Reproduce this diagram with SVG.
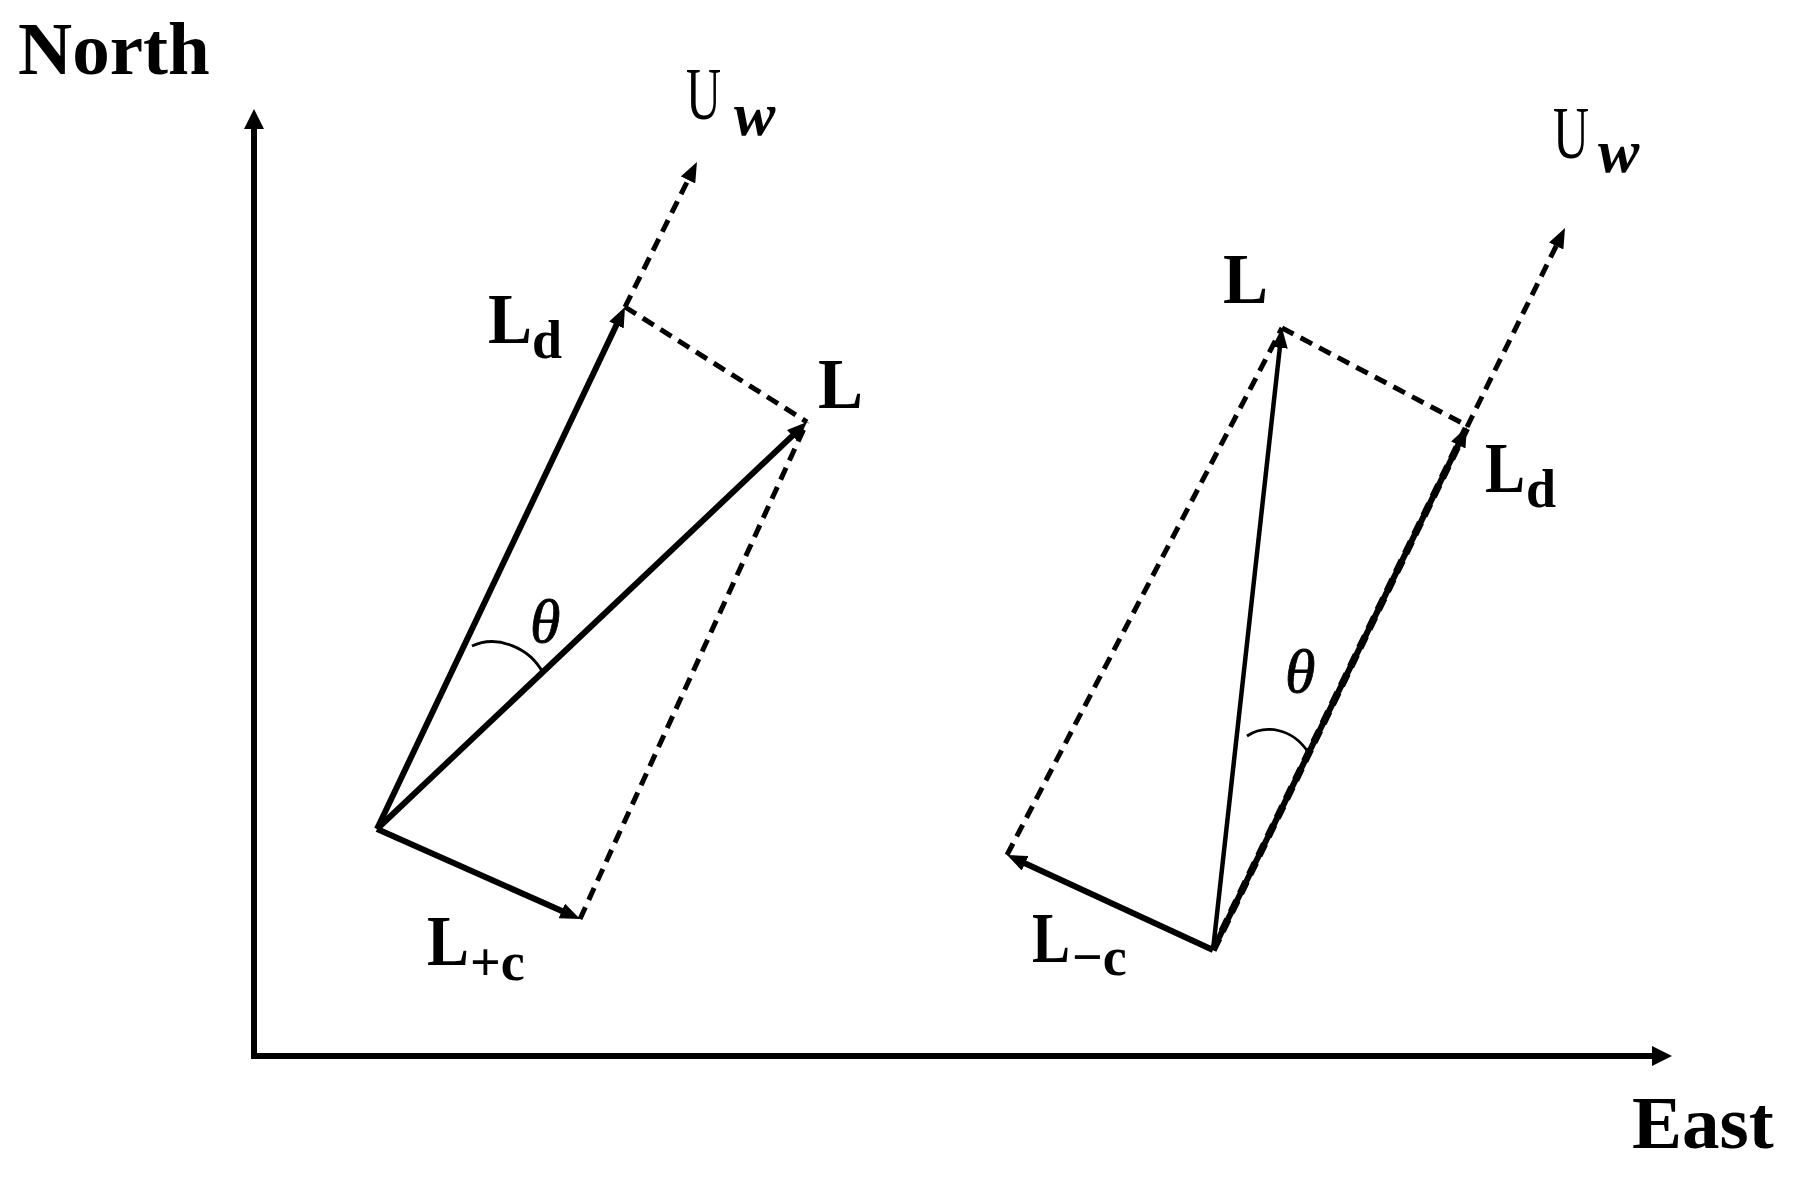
<svg xmlns="http://www.w3.org/2000/svg" width="1795" height="1181" viewBox="0 0 1795 1181">
<style>
.ax{stroke:#000;stroke-width:6;fill:none}
.sol{stroke:#000;stroke-width:6;fill:none}
.thin{stroke:#000;stroke-width:4.5;fill:none}
.dash{stroke:#000;stroke-width:5;fill:none;stroke-dasharray:13 8}
.arc{stroke:#000;stroke-width:2.8;fill:none}
.big{font-family:"Liberation Serif","Times New Roman",serif;font-weight:bold;font-size:75px;fill:#000}
.lab{font-family:"Liberation Serif","Times New Roman",serif;font-weight:bold;font-size:72px;fill:#000}
.sub{font-size:54px}
.u{font-family:"Liberation Serif","Times New Roman",serif;font-size:75px;fill:#000}
.w{font-weight:bold;font-style:italic;font-size:62px}
.th{font-family:"Liberation Serif","Times New Roman",serif;font-style:italic;font-size:62px;fill:#000;stroke:#000;stroke-width:0.8}
</style>
<defs>
<marker id="ah" viewBox="0 0 20 20" refX="10" refY="10" markerWidth="20" markerHeight="20" markerUnits="userSpaceOnUse" orient="auto"><path d="M0,0 L20,10 L0,20 Z" fill="#000"/></marker>
<marker id="vh" viewBox="0 0 20 16" refX="10" refY="8" markerWidth="20" markerHeight="16" markerUnits="userSpaceOnUse" orient="auto"><path d="M0,0 L20,8 L0,16 Z" fill="#000"/></marker>
</defs>
<rect width="1795" height="1181" fill="#fff"/>
<g id="connectors">
<line class="ax" x1="254" y1="1056" x2="254" y2="119" marker-end="url(#ah)"/>
<line class="ax" x1="251" y1="1056" x2="1662" y2="1056" marker-end="url(#ah)"/>
<line class="sol" x1="377" y1="829" x2="620.7" y2="316" marker-end="url(#vh)"/>
<line class="dash" x1="625" y1="307" x2="692.5" y2="171" marker-end="url(#vh)"/>
<line class="sol" x1="377" y1="829" x2="799.7" y2="428.9" marker-end="url(#vh)"/>
<line class="sol" x1="377" y1="829" x2="570.9" y2="915" marker-end="url(#vh)"/>
<line class="dash" x1="625" y1="307" x2="807" y2="422"/>
<line class="dash" x1="580" y1="919" x2="807" y2="422"/>
<path class="arc" d="M472,646 C497,634 530,648 543,673"/>
<line class="dash" x1="1213" y1="950" x2="1467" y2="427" style="stroke-width:7.5"/>
<line class="sol" x1="1213" y1="950" x2="1462.6" y2="436" marker-end="url(#vh)"/>
<line class="dash" x1="1467" y1="427" x2="1560.6" y2="237" marker-end="url(#vh)"/>
<line class="thin" x1="1213" y1="950" x2="1280.9" y2="337.9" marker-end="url(#vh)"/>
<line class="sol" x1="1213" y1="950" x2="1016.1" y2="859.2" marker-end="url(#vh)"/>
<line class="dash" x1="1282" y1="328" x2="1462" y2="423"/>
<line class="dash" x1="1007" y1="855" x2="1282" y2="328"/>
<path class="arc" d="M1247,736 C1265,724 1292,728 1308,752"/>
</g>
<g id="north"><text class="big" x="18" y="74">North</text></g>
<g id="east"><text class="big" x="1632" y="1148">East</text></g>
<g id="uw-left"><text class="u" x="686" y="119"><tspan textLength="35" lengthAdjust="spacingAndGlyphs">U</tspan><tspan class="w" x="734" y="135">w</tspan></text></g>
<g id="ld-left"><text class="lab" x="488" y="343"><tspan textLength="44" lengthAdjust="spacingAndGlyphs">L</tspan><tspan class="sub" x="532" y="358">d</tspan></text></g>
<g id="l-left"><text class="lab" x="818" y="408" textLength="45" lengthAdjust="spacingAndGlyphs">L</text></g>
<g id="theta-left"><text class="th" x="530" y="642">θ</text></g>
<g id="lpc"><text class="lab" x="427" y="965"><tspan textLength="42" lengthAdjust="spacingAndGlyphs">L</tspan><tspan class="sub" x="470" y="980">+c</tspan></text></g>
<g id="uw-right"><text class="u" x="1553" y="158"><tspan textLength="36" lengthAdjust="spacingAndGlyphs">U</tspan><tspan class="w" x="1598" y="172">w</tspan></text></g>
<g id="l-right"><text class="lab" x="1223" y="303" textLength="45" lengthAdjust="spacingAndGlyphs">L</text></g>
<g id="ld-right"><text class="lab" x="1485" y="492"><tspan textLength="40" lengthAdjust="spacingAndGlyphs">L</tspan><tspan class="sub" x="1526" y="507">d</tspan></text></g>
<g id="theta-right"><text class="th" x="1285" y="692">θ</text></g>
<g id="lmc"><text class="lab" x="1032" y="962"><tspan textLength="38" lengthAdjust="spacingAndGlyphs">L</tspan><tspan class="sub" x="1072" y="975">−c</tspan></text></g>
</svg>
